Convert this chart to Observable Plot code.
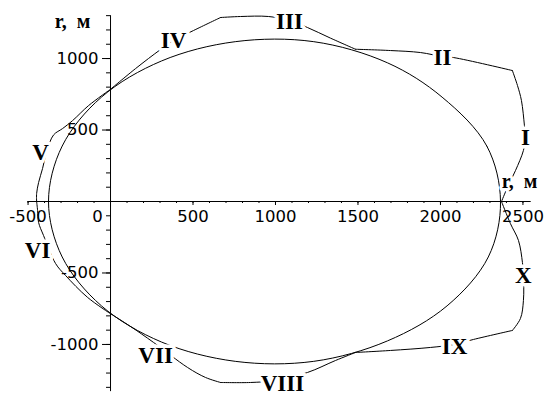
<!DOCTYPE html>
<html><head><meta charset="utf-8">
<script src="https://cdn.jsdelivr.net/npm/d3@7"></script>
<script src="https://cdn.jsdelivr.net/npm/@observablehq/plot@0.6"></script>
<style>html,body{margin:0;padding:0;background:#fff} svg{display:block}</style>
</head><body><div id="chart"></div>
<script>
// Tick values
const xTickLabels = [-500, 500, 1000, 1500, 2000, 2500];
const yTickLabels = [-1000, -500, 500, 1000];
const xMinorTicks = d3.range(-500, 2501, 100).filter(d => d !== 0);
const yMinorTicks = d3.range(-1300, 1301, 100).filter(d => d !== 0);

// Ellipse (inner closed curve)
const ellipsePts = [
  [2364, 0], [2281, 388], [2010, 730], [1679, 970], [1232, 1118], [756, 1118],
  [309, 983], [-55, 730], [-293, 388], [-376, 0], [-293, -388], [-55, -730],
  [309, -983], [756, -1118], [1232, -1118], [1679, -975], [2040, -730], [2290, -388]
];

// Outer piecewise curve, one array per labelled arc
const segI    = [[2370, 0], [2406, 98], [2455, 217], [2503, 357], [2515, 448], [2509, 531], [2491, 706], [2467, 811], [2436, 916]];
const segII   = [[2436, 916], [2079, 1007], [2012, 1014], [1879, 1042], [1697, 1056], [1485, 1065]];
const segIII  = [[1485, 1065], [1333, 1143], [1194, 1217], [1085, 1266], [958, 1294], [788, 1294], [667, 1287]];
const segIV   = [[667, 1287], [503, 1196], [382, 1126], [303, 1063], [152, 930], [0, 785]];
const segV    = [[0, 785], [-133, 671], [-230, 566], [-291, 510], [-345, 466], [-385, 357], [-412, 231], [-436, 133], [-448, 56], [-448, 0]];
const segVI   = [[-448, 0], [-442, -63], [-436, -147], [-406, -238], [-333, -434], [-273, -517], [-139, -671], [0, -785]];
const segVII  = [[0, -785], [121, -874], [261, -986], [467, -1161], [576, -1231], [667, -1266]];
const segVIII = [[667, -1266], [848, -1266], [1000, -1252], [1194, -1196], [1364, -1112], [1485, -1056]];
const segIX   = [[1485, -1056], [1697, -1042], [1939, -1021], [2085, -1000], [2200, -965], [2436, -902]];
const segX    = [[2436, -902], [2485, -818], [2503, -692], [2503, -517], [2497, -427], [2473, -273], [2424, -154], [2370, 0]];

// Arc labels
const arcNames = ["I", "II", "III", "IV", "V", "VI", "VII", "VIII", "IX", "X"];
const arcLabelX = [2515, 2012, 1085, 382, -424, -442, 273, 1042, 2085, 2503];
const arcLabelY = [448, 1007, 1259, 1126, 343, -343, -1077, -1272, -1014, -517];

// Axis titles
const axisTitles = ["r,\u00a0\u00a0м", "r,\u00a0\u00a0м"];
const axisTitleX = [-230, 2479];
const axisTitleY = [1259, 140];

const segs = [segI, segII, segIII, segIV, segV, segVI, segVII, segVIII, segIX, segX];
const outer = segs.flatMap((pts, k) => pts.map(([x, y]) => ({seg: arcNames[k], x, y})));
const ellipse = ellipsePts.map(([x, y]) => ({x, y}));
const arcLabels = arcNames.map((t, i) => ({t, x: arcLabelX[i], y: arcLabelY[i]}));
const titles = axisTitles.map((t, i) => ({t, x: axisTitleX[i], y: axisTitleY[i]}));

const tickFont = {fontFamily: "DejaVu Sans", fontSize: 16.5, fill: "black"};

const chart = Plot.plot({
  width: 549, height: 395, margin: 0,
  x: {domain: [-667, 2661], axis: null},
  y: {domain: [-1357, 1406], axis: null},
  style: {background: "white", color: "black"},
  marks: [
    // axes
    Plot.ruleY([0], {x1: -500, x2: 2550, stroke: "black", strokeWidth: 1}),
    Plot.ruleX([0], {y1: -1330, y2: 1300, stroke: "black", strokeWidth: 1}),
    Plot.ruleX(xMinorTicks, {x: d => d, y1: 0, y2: 0, insetTop: 2, stroke: "black"}),
    Plot.ruleX(xTickLabels, {x: d => d, y1: 0, y2: 0, insetTop: 4, stroke: "black"}),
    Plot.ruleY(yMinorTicks, {y: d => d, x1: 0, x2: 0, insetRight: 4, stroke: "black"}),
    Plot.ruleY(yTickLabels, {y: d => d, x1: 0, x2: 0, insetRight: 8, stroke: "black"}),
    // curves
    Plot.line(ellipse, {x: "x", y: "y", curve: "catmull-rom-closed", stroke: "black", strokeWidth: 1}),
    Plot.line(outer, {x: "x", y: "y", z: "seg", curve: "catmull-rom", stroke: "black", strokeWidth: 1}),
    // tick labels
    Plot.text(xTickLabels, {x: d => d, y: 0, text: d => String(d), dy: 15, textAnchor: "middle", ...tickFont}),
    Plot.text([0], {x: 0, y: 0, text: () => "0", dx: -13, dy: 15, textAnchor: "middle", ...tickFont}),
    Plot.text(yTickLabels, {x: 0, y: d => d, text: d => String(d), dx: -12, textAnchor: "end", ...tickFont}),
    // arc labels with white halo (gaps in curve)
    Plot.text(arcLabels, {x: "x", y: "y", text: "t", fontFamily: "Liberation Serif", fontWeight: "bold",
      fontSize: 23, fill: "black", stroke: "white", strokeWidth: 7}),
    // axis titles
    Plot.text(titles, {x: "x", y: "y", text: "t", fontFamily: "Liberation Serif", fontWeight: "bold",
      fontSize: 20, fill: "black", stroke: "white", strokeWidth: 6})
  ]
});
document.getElementById("chart").appendChild(chart);
</script>
</body></html>
